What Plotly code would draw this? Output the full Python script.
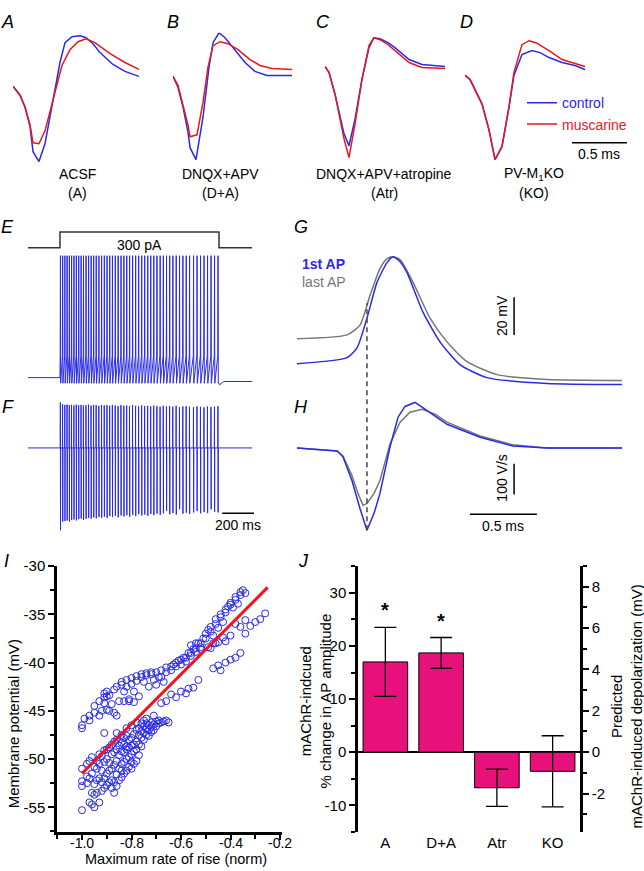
import plotly.graph_objects as go

W, H = 644, 871
def dx(px): return px / W
def dy(py): return 1 - py / H

BLUE = "#2a2ae6"
RED = "#e8161e"
GRAY = "#767676"
PINK = "#e8107a"
FONT = "Liberation Sans, Arial, sans-serif"

# ---------------- Panels A-D : AP waveforms (ms, normalised units) ----------------
a_t_ctrl = [0, 0.064, 0.109, 0.155, 0.182, 0.236, 0.291, 0.336, 0.382, 0.427, 0.473, 0.536, 0.609, 0.664, 0.727, 0.791, 0.909, 1.018, 1.145]
a_v_ctrl = [0.02, -0.16, -0.40, -0.80, -1.30, -1.50, -1.14, -0.60, -0.06, 0.50, 0.90, 1.02, 1.04, 1.00, 0.88, 0.70, 0.46, 0.32, 0.22]
a_t_musc = [0, 0.064, 0.109, 0.155, 0.182, 0.236, 0.291, 0.382, 0.445, 0.518, 0.591, 0.664, 0.745, 0.882, 1.018, 1.145]
a_v_musc = [0.02, -0.16, -0.40, -0.76, -1.12, -1.14, -0.88, -0.10, 0.44, 0.76, 0.92, 0.98, 0.90, 0.68, 0.50, 0.36]

b_t_ctrl = [0, 0.045, 0.091, 0.136, 0.155, 0.209, 0.273, 0.327, 0.364, 0.418, 0.473, 0.564, 0.655, 0.745, 0.855, 1.082]
b_v_ctrl = [0.22, 0.0, -0.40, -0.90, -1.22, -1.46, -0.60, 0.40, 0.90, 1.10, 1.00, 0.76, 0.50, 0.32, 0.24, 0.24]
b_t_musc = [0, 0.045, 0.091, 0.136, 0.155, 0.218, 0.273, 0.318, 0.364, 0.427, 0.500, 0.591, 0.700, 0.791, 0.900, 1.082]
b_v_musc = [0.22, 0.04, -0.36, -0.76, -1.00, -0.96, -0.30, 0.40, 0.84, 0.92, 0.88, 0.76, 0.56, 0.44, 0.38, 0.36]

c_t_ctrl = [0, 0.036, 0.091, 0.136, 0.173, 0.218, 0.273, 0.336, 0.400, 0.445, 0.500, 0.573, 0.636, 0.764, 0.882, 1.091]
c_v_ctrl = [0.42, 0.30, -0.14, -0.60, -0.94, -1.18, -0.64, 0.16, 0.80, 1.00, 0.98, 0.90, 0.80, 0.56, 0.46, 0.42]
c_t_musc = [0, 0.036, 0.091, 0.136, 0.173, 0.218, 0.273, 0.336, 0.400, 0.445, 0.500, 0.573, 0.636, 0.764, 0.882, 1.091]
c_v_musc = [0.42, 0.30, -0.14, -0.64, -1.04, -1.42, -0.74, 0.16, 0.84, 1.00, 0.96, 0.86, 0.74, 0.50, 0.40, 0.38]

d_t_ctrl = [0, 0.045, 0.155, 0.218, 0.273, 0.336, 0.400, 0.445, 0.518, 0.609, 0.682, 0.764, 0.882, 1.000, 1.091]
d_v_ctrl = [0.24, 0.16, -0.34, -0.86, -1.46, -1.20, -0.40, 0.24, 0.66, 0.74, 0.70, 0.60, 0.50, 0.44, 0.36]
d_t_musc = [0, 0.045, 0.155, 0.218, 0.273, 0.336, 0.400, 0.445, 0.518, 0.582, 0.645, 0.764, 0.882, 1.000, 1.091]
d_v_musc = [0.24, 0.16, -0.34, -0.86, -1.46, -1.20, -0.40, 0.30, 0.86, 0.94, 0.90, 0.74, 0.56, 0.48, 0.42]

conditions = ["ACSF", "DNQX+APV", "DNQX+APV+atropine", "PV-M<sub>1</sub>KO"]
cond_abbrev = ["(A)", "(D+A)", "(Atr)", "(KO)"]

# ---------------- Panels E-F : spike train ----------------
step_t_ms = [-201, 0, 0, 1000, 1000, 1208]
step_pA = [0, 0, 300, 300, 0, 0]
spike_times_ms = [3, 17, 31, 45, 59, 73, 88, 103, 118, 133, 148, 164, 180, 196, 212, 228, 245, 262,
                  279, 296, 313, 330, 348, 366, 384, 402, 420, 438, 457, 476, 495, 514, 533, 552,
                  571, 590, 610, 630, 650, 670, 690, 710, 731, 752, 773, 794, 815, 840, 862, 884,
                  906, 928, 950, 972, 994]
e_rest_pre_mV = -61.7
e_rest_post_mV = -64.3
e_peak_mV = 20
e_threshold_mV = -47
e_ahp_mV = -65.5
f_peak_Vs = [148, 142, 140, 141, 139, 140, 138, 141, 139, 140, 138, 139, 141, 138, 140, 139, 137, 140,
             138, 139, 137, 140, 138, 136, 139, 137, 138, 136, 139, 137, 135, 138, 136, 137, 135, 138,
             136, 134, 137, 135, 136, 134, 137, 133, 135, 136, 134, 133, 135, 134, 132, 135, 133, 134, 136]
f_trough_Vs = [-268, -240, -238, -236, -240, -235, -233, -236, -232, -230, -234, -231, -228, -230, -226,
               -229, -225, -227, -224, -228, -222, -225, -221, -226, -220, -223, -219, -224, -218, -222,
               -216, -220, -217, -221, -215, -219, -214, -218, -213, -205, -216, -212, -217, -200, -214,
               -211, -215, -210, -205, -213, -209, -212, -200, -208, -210]

# ---------------- Panels G-H : first vs last AP ----------------
g_t_first = [0, 0.373, 0.448, 0.522, 0.597, 0.672, 0.716, 0.769, 0.821, 0.940, 1.067, 1.216, 1.418, 1.866, 2.425]
g_v_first = [-55.0, -51.8, -46.6, -30.8, -11.8, -1.3, 1.8, -0.8, -6.6, -27.6, -43.4, -55.5, -62.4, -65.5, -66.1]
g_t_last = [0, 0.373, 0.470, 0.545, 0.619, 0.672, 0.716, 0.769, 0.866, 0.993, 1.119, 1.269, 1.493, 1.866, 2.425]
g_v_last = [-41.8, -39.7, -34.5, -18.7, -4.5, 0.8, 1.8, 0.3, -11.8, -30.8, -43.4, -53.9, -60.8, -63.4, -63.9]
h_t_first = [0, 0.299, 0.343, 0.410, 0.470, 0.522, 0.575, 0.619, 0.694, 0.754, 0.806, 0.881, 0.955, 1.119, 1.366, 1.612, 1.866, 2.425]
h_d_first = [0, -10, -29, -106, -197, -268, -213, -148, 3, 100, 135, 148, 126, 77, 35, 6, 0, 0]
h_t_last = [0, 0.299, 0.343, 0.410, 0.455, 0.493, 0.522, 0.575, 0.619, 0.694, 0.769, 0.843, 0.933, 1.030, 1.119, 1.366, 1.612, 1.866, 2.425]
h_d_last = [0, -10, -26, -90, -148, -187, -181, -148, -106, 13, 84, 116, 126, 110, 84, 39, 10, 0, 0]

# ---------------- Panel I : scatter ----------------
i_upper_x = [-1.00, -1.00, -0.99, -0.97, -0.97, -0.95, -0.95, -0.93, -0.93, -0.92, -0.91, -0.91, -0.91, -0.91,
             -0.90, -0.90, -0.90, -0.89, -0.89, -0.88, -0.87, -0.87, -0.86, -0.86, -0.85, -0.84, -0.84, -0.83,
             -0.83, -0.82, -0.82, -0.81, -0.81, -0.80, -0.80, -0.79, -0.79, -0.78, -0.78, -0.77, -0.76, -0.76,
             -0.75, -0.74, -0.74, -0.73, -0.72, -0.72, -0.71, -0.70, -0.70, -0.69, -0.68, -0.68, -0.67, -0.66,
             -0.66, -0.64, -0.64, -0.63, -0.62, -0.62, -0.61, -0.60, -0.60, -0.59, -0.58, -0.58, -0.57, -0.56,
             -0.56, -0.55, -0.54, -0.54, -0.53, -0.52, -0.52, -0.51, -0.50, -0.50, -0.49, -0.48, -0.48, -0.47,
             -0.46, -0.46, -0.45, -0.44, -0.44, -0.43, -0.42, -0.42, -0.41, -0.40, -0.40, -0.39, -0.38, -0.38,
             -0.37, -0.36, -0.36, -0.35, -0.34]
i_upper_y = [-46.5, -46.8, -45.8, -45.5, -46.0, -44.5, -45.2, -44.0, -45.5, -45.0, -43.2, -43.6, -44.2, -47.3,
             -43.0, -43.5, -44.9, -43.4, -45.0, -44.3, -42.8, -45.2, -45.5, -42.5, -44.0, -42.3, -42.0, -44.0,
             -43.0, -41.8, -42.5, -43.8, -44.0, -41.6, -42.2, -43.0, -44.1, -41.4, -41.9, -43.5, -41.2, -41.5,
             -42.0, -41.1, -41.3, -42.5, -41.0, -41.2, -41.8, -41.0, -42.3, -41.5, -40.8, -41.5, -42.0, -40.5,
             -41.0, -40.4, -40.8, -40.2, -40.0, -40.4, -39.8, -39.7, -40.2, -39.5, -39.5, -39.9, -39.0, -39.0,
             -39.3, -38.6, -38.5, -38.9, -38.0, -38.0, -38.4, -37.5, -37.5, -37.0, -36.6, -36.8, -36.3, -37.2,
             -36.0, -35.5, -36.4, -35.3, -35.0, -35.8, -34.5, -34.8, -34.2, -34.0, -33.8, -34.3, -33.5, -33.2,
             -33.9, -33.0, -32.7, -32.5, -32.8]
i_mid_x = [-0.68, -0.66, -0.64, -0.62, -0.60, -0.58, -0.57, -0.55, -0.53, -0.47, -0.45, -0.44, -0.42, -0.40,
           -0.38, -0.36, -0.38, -0.36, -0.34, -0.32, -0.30, -0.28, -0.26, -0.34, -0.40, -0.42, -0.46, -0.48,
           -0.56, -0.54, -0.52, -0.49, -0.47, -0.45, -0.43]
i_mid_y = [-44.2, -44.0, -43.3, -43.6, -43.0, -43.2, -42.7, -42.6, -41.8, -40.6, -40.3, -40.8, -40.0, -39.7,
           -39.5, -39.0, -36.0, -36.3, -35.6, -36.2, -35.8, -35.5, -34.9, -37.0, -37.2, -37.8, -38.0, -38.5,
           -38.2, -38.0, -38.6, -38.4, -38.0, -37.9, -37.4]
i_lower_x = [-1.00, -1.00, -1.00, -1.00, -0.98, -0.98, -0.98, -0.97, -0.97, -0.97, -0.96, -0.96, -0.96, -0.96,
             -0.95, -0.95, -0.95, -0.95, -0.94, -0.94, -0.94, -0.94, -0.93, -0.93, -0.93, -0.93, -0.92, -0.92,
             -0.92, -0.92, -0.91, -0.91, -0.91, -0.91, -0.90, -0.90, -0.90, -0.90, -0.89, -0.89, -0.89, -0.89,
             -0.88, -0.88, -0.88, -0.88, -0.88, -0.87, -0.87, -0.87, -0.87, -0.87, -0.86, -0.86, -0.86, -0.86,
             -0.86, -0.86, -0.85, -0.85, -0.85, -0.85, -0.84, -0.84, -0.84, -0.84, -0.84, -0.84, -0.83, -0.83,
             -0.83, -0.83, -0.83, -0.82, -0.82, -0.82, -0.82, -0.82, -0.82, -0.81, -0.81, -0.81, -0.81, -0.80,
             -0.80, -0.80, -0.80, -0.80, -0.80, -0.79, -0.79, -0.79, -0.79, -0.78, -0.78, -0.78, -0.78, -0.78,
             -0.77, -0.77, -0.77, -0.77, -0.76, -0.76, -0.76, -0.76, -0.75, -0.75, -0.75, -0.75, -0.74, -0.74,
             -0.74, -0.74, -0.73, -0.73, -0.73, -0.72, -0.72, -0.72, -0.71, -0.71, -0.71, -0.70, -0.70, -0.69,
             -0.69, -0.68, -0.67, -0.66, -0.65]
i_lower_y = [-55.3, -52.8, -52.3, -51.0, -51.8, -52.5, -50.5, -54.5, -52.0, -50.2, -54.7, -53.5, -51.5, -49.8,
             -55.0, -53.7, -52.6, -50.8, -53.5, -52.2, -51.0, -50.2, -54.5, -52.0, -50.5, -49.5, -53.3, -52.4,
             -51.2, -49.7, -53.0, -52.0, -50.3, -49.1, -52.7, -51.5, -50.0, -49.0, -52.4, -51.2, -50.4, -48.8,
             -53.0, -52.2, -51.0, -49.5, -48.5, -53.5, -52.4, -50.6, -49.3, -48.2, -52.8, -51.6, -50.2, -49.0,
             -48.0, -47.3, -52.2, -51.0, -49.6, -48.6, -51.9, -51.2, -50.5, -49.2, -48.3, -47.5, -51.5, -50.3,
             -49.3, -48.5, -47.8, -51.2, -50.0, -49.0, -48.7, -47.6, -46.8, -50.8, -49.8, -48.8, -48.0, -51.0,
             -50.3, -49.5, -48.6, -47.8, -46.5, -50.5, -49.2, -48.5, -47.4, -50.2, -49.0, -48.2, -47.0, -46.2,
             -49.6, -48.5, -47.5, -46.8, -48.7, -47.8, -47.1, -46.3, -48.0, -47.3, -46.6, -46.0, -47.5, -46.9,
             -46.3, -45.8, -47.6, -47.0, -46.5, -47.2, -46.7, -46.2, -47.0, -46.4, -45.5, -46.6, -46.1, -46.3,
             -46.0, -46.2, -46.1, -46.0, -46.2]
i_fit_x = [-1.0, -0.25]
i_fit_y = [-51.5, -32.2]
i_xticks = [-1.0, -0.8, -0.6, -0.4, -0.2]
i_yticks = [-55, -50, -45, -40, -35, -30]

# ---------------- Panel J : bars ----------------
j_groups = ["A", "D+A", "Atr", "KO"]
j_mean = [17.0, 18.7, -6.7, -3.6]
j_sem = [6.5, 2.9, 3.5, 6.7]
j_sig = [True, True, False, False]
j_left_ticks = [-10, 0, 10, 20, 30]
j_right_ticks = [-2, 0, 2, 4, 6, 8]

# =====================================================================
fig = go.Figure()
layout = dict(width=W, height=H, margin=dict(l=0, r=0, t=0, b=0, pad=0), autosize=False,
              paper_bgcolor="white", plot_bgcolor="rgba(0,0,0,0)",
              font=dict(family=FONT, size=14, color="black"), showlegend=True)

def hid(domain, rng, anchor):
    return dict(domain=domain, range=rng, visible=False, fixedrange=True, anchor=anchor, showgrid=False, zeroline=False)

# A-D axes
ad_starts = [13, 173, 325, 465]
ad_widths = [150, 150, 135, 175]
ad_ydom = [dy(160), dy(25)]
wave_sets = [(a_t_ctrl, a_v_ctrl, a_t_musc, a_v_musc), (b_t_ctrl, b_v_ctrl, b_t_musc, b_v_musc),
             (c_t_ctrl, c_v_ctrl, c_t_musc, c_v_musc), (d_t_ctrl, d_v_ctrl, d_t_musc, d_v_musc)]
for k in range(4):
    n = k + 1
    xs = "" if n == 1 else str(n)
    layout["xaxis" + xs] = hid([dx(ad_starts[k]), dx(ad_starts[k] + ad_widths[k])], [0, ad_widths[k] / 110], "y" + xs)
    layout["yaxis" + xs] = hid(ad_ydom, [-1.6, 1.1], "x" + xs)
    tc, vc, tm, vm = wave_sets[k]
    last = (k == 3)
    fig.add_trace(go.Scatter(x=tc, y=vc, mode="lines", line=dict(color=BLUE, width=1.5),
                             xaxis="x" + xs, yaxis="y" + xs, showlegend=last,
                             name="<span style='color:%s'>control</span>" % BLUE))
    fig.add_trace(go.Scatter(x=tm, y=vm, mode="lines", line=dict(color=RED, width=1.5),
                             xaxis="x" + xs, yaxis="y" + xs, showlegend=last,
                             name="<span style='color:%s'>muscarine</span>" % RED))

# E voltage (x5,y5), step current (x6,y6), F (x7,y7)
layout["xaxis5"] = hid([dx(28), dx(252)], [-201, 1207.5], "y5")
layout["yaxis5"] = hid([dy(385), dy(245)], [20 - (385 - 250) / 1.506, 20 - (245 - 250) / 1.506], "x5")
layout["xaxis6"] = hid([dx(28), dx(252)], [-201, 1207.5], "y6")
layout["yaxis6"] = hid([dy(246), dy(218)], [-75, 450], "x6")
layout["xaxis7"] = hid([dx(28), dx(262)], [-201, 1270.4], "y7")
layout["yaxis7"] = hid([dy(530), dy(395)], [(444 - 530) / 0.31, (444 - 395) / 0.31], "x7")

e_t = [step_t_ms[0], 0]
e_v = [e_rest_pre_mV, e_rest_pre_mV]
for ts in spike_times_ms:
    e_t += [ts - 1.5, ts, ts + 1.5]
    e_v += [e_threshold_mV, e_peak_mV, e_ahp_mV]
e_t += [1000, 1004, 1030, step_t_ms[-1]]
e_v += [e_ahp_mV, -66.5, e_rest_post_mV, e_rest_post_mV]
fig.add_trace(go.Scatter(x=e_t, y=e_v, mode="lines", line=dict(color=BLUE, width=1),
                         xaxis="x5", yaxis="y5", showlegend=False))
fig.add_trace(go.Scatter(x=step_t_ms, y=step_pA, mode="lines", line=dict(color="#333333", width=1.5),
                         xaxis="x6", yaxis="y6", showlegend=False))
f_t = [step_t_ms[0]]
f_d = [0]
for ts, pk, tr in zip(spike_times_ms, f_peak_Vs, f_trough_Vs):
    f_t += [ts - 1.5, ts - 0.5, ts + 0.5, ts + 1.5]
    f_d += [0, pk, tr, 0]
f_t += [step_t_ms[-1]]
f_d += [0]
fig.add_trace(go.Scatter(x=f_t, y=f_d, mode="lines", line=dict(color=BLUE, width=1),
                         xaxis="x7", yaxis="y7", showlegend=False))

# G (x8,y8), H (x9,y9)
layout["xaxis8"] = hid([dx(297), dx(640)], [0, 343 / 134], "y8")
layout["yaxis8"] = hid([dy(390), dy(240)], [-55 + (359 - 390) / 1.9, -55 + (359 - 240) / 1.9], "x8")
layout["xaxis9"] = hid([dx(297), dx(640)], [0, 343 / 134], "y9")
layout["yaxis9"] = hid([dy(540), dy(392)], [(444 - 540) / 0.31, (444 - 392) / 0.31], "x9")
fig.add_trace(go.Scatter(x=g_t_last, y=g_v_last, mode="lines", line=dict(color=GRAY, width=1.5, shape="spline", smoothing=0.6),
                         xaxis="x8", yaxis="y8", showlegend=False))
fig.add_trace(go.Scatter(x=g_t_first, y=g_v_first, mode="lines", line=dict(color=BLUE, width=1.5, shape="spline", smoothing=0.6),
                         xaxis="x8", yaxis="y8", showlegend=False))
fig.add_trace(go.Scatter(x=h_t_last, y=h_d_last, mode="lines", line=dict(color=GRAY, width=1.5),
                         xaxis="x9", yaxis="y9", showlegend=False))
fig.add_trace(go.Scatter(x=h_t_first, y=h_d_first, mode="lines", line=dict(color=BLUE, width=1.5),
                         xaxis="x9", yaxis="y9", showlegend=False))

# I (x10,y10)
axis_common = dict(showline=True, linewidth=2.5, linecolor="black", ticks="outside", ticklen=6, tickwidth=2,
                   tickcolor="black", showgrid=False, zeroline=False, fixedrange=True,
                   tickfont=dict(family=FONT, size=15, color="black"))
layout["xaxis10"] = dict(axis_common, domain=[dx(57), dx(282)], range=[-1.101, -0.192], anchor="y10",
                         tickvals=i_xticks, showticklabels=False, ticklen=5,
                         minor=dict(dtick=0.1, tick0=-1.0, ticklen=4, tickwidth=2, tickcolor="black", ticks="outside"))
layout["yaxis10"] = dict(axis_common, domain=[dy(832), dy(563)], range=[-57.6, -29.97], anchor="x10",
                         tickvals=i_yticks, ticktext=["%d" % v for v in i_yticks],
                         minor=dict(dtick=2.5, tick0=-30, ticklen=4, tickwidth=2, tickcolor="black", ticks="outside"))
fig.add_trace(go.Scatter(x=i_upper_x + i_mid_x + i_lower_x, y=i_upper_y + i_mid_y + i_lower_y, mode="markers",
                         marker=dict(symbol="circle-open", size=7, color=BLUE, line=dict(width=1)),
                         xaxis="x10", yaxis="y10", showlegend=False, cliponaxis=False))
fig.add_trace(go.Scatter(x=i_fit_x, y=i_fit_y, mode="lines", line=dict(color=RED, width=3),
                         xaxis="x10", yaxis="y10", showlegend=False))

# J (x11,y11,y12)
layout["xaxis11"] = dict(domain=[dx(358), dx(580)], range=[-0.491, 3.491], anchor="y11", showline=False,
                         ticks="", tickvals=[0, 1, 2, 3], ticktext=j_groups, showgrid=False, zeroline=False,
                         fixedrange=True, tickfont=dict(family=FONT, size=15, color="black"))
layout["yaxis11"] = dict(axis_common, domain=[dy(832), dy(563)], range=[-15.1, 35.1], anchor="x11",
                         tickvals=j_left_ticks, ticktext=["%d" % v for v in j_left_ticks],
                         zeroline=True, zerolinecolor="black", zerolinewidth=2,
                         minor=dict(dtick=5, tick0=0, ticklen=4, tickwidth=2, tickcolor="black", ticks="outside"))
layout["yaxis12"] = dict(axis_common, domain=[dy(832), dy(563)], range=[-3.87, 9.0], anchor="x11",
                         overlaying="y11", side="right",
                         tickvals=j_right_ticks, ticktext=["%d" % v for v in j_right_ticks],
                         minor=dict(dtick=1, tick0=0, ticklen=4, tickwidth=2, tickcolor="black", ticks="outside"))
fig.add_trace(go.Bar(x=[0, 1, 2, 3], y=j_mean, width=0.8,
                     marker=dict(color=PINK, line=dict(color="black", width=1)),
                     error_y=dict(type="data", array=j_sem, color="black", thickness=1.3, width=11),
                     xaxis="x11", yaxis="y11", showlegend=False))
# placeholder so that the right-hand axis is drawn
fig.add_trace(go.Scatter(x=[0], y=[0], mode="markers", marker=dict(opacity=0), hoverinfo="skip",
                         xaxis="x11", yaxis="y12", showlegend=False))

# ---------------- shapes ----------------
shapes = [
    dict(type="line", xref="x4", yref="y4", x0=(572 - 465) / 110, x1=(572 - 465) / 110 + 0.5, y0=-1.12, y1=-1.12,
         line=dict(color="black", width=1.5)),
    dict(type="line", xref="x7", yref="y7", x0=1020, x1=1220, y0=-213, y1=-213, line=dict(color="black", width=1.5)),
    dict(type="line", xref="x8", yref="y8", x0=1.62, x1=1.62, y0=-39.7, y1=-19.7, line=dict(color="black", width=1.5)),
    dict(type="line", xref="x9", yref="y9", x0=1.62, x1=1.62, y0=-151.6, y1=-51.6, line=dict(color="black", width=1.5)),
    dict(type="line", xref="x9", yref="y9", x0=1.29, x1=1.79, y0=-216, y1=-216, line=dict(color="black", width=1.5)),
    dict(type="line", xref="x8", yref="paper", x0=0.522, x1=0.522, y0=dy(527), y1=dy(298),
         line=dict(color="#444444", width=1.5, dash="5px,4px")),
]
layout["shapes"] = shapes

# ---------------- annotations ----------------
ann = []
def pa(text, px, py, size=14, color="black", xanchor="center", angle=0):
    ann.append(dict(text=text, x=dx(px), y=dy(py), xref="paper", yref="paper", showarrow=False,
                    xanchor=xanchor, yanchor="middle", textangle=angle,
                    font=dict(family=FONT, size=size, color=color)))

for lab, px, py in [("A", 8, 14), ("B", 173, 14), ("C", 323, 14), ("D", 466, 14), ("E", 8, 221), ("F", 8, 403),
                    ("G", 301, 221), ("H", 301, 403), ("I", 6, 558), ("J", 303, 558)]:
    pa("<i>%s</i>" % lab, px, py, size=18)
for txt, ab, cx in zip(conditions, cond_abbrev, [77, 220, 384, 534]):
    pa(txt, cx, 168, size=14)
    pa(ab, cx, 187, size=14)

def da(text, x, y, xr, yr, size=14, color="black", angle=0):
    ann.append(dict(text=text, x=x, y=y, xref=xr, yref=yr, showarrow=False, textangle=angle,
                    xanchor="center", yanchor="middle", font=dict(family=FONT, size=size, color=color)))

da("0.5 ms", (599 - 465) / 110, -1.34, "x4", "y4")
da("300 pA", 503, 56, "x6", "y6")
da("200 ms", 1120, -252, "x7", "y7")
da("20 mV", 1.53, -29.7, "x8", "y8", angle=-90)
da("100 V/s", 1.53, -100, "x9", "y9", angle=-90)
da("0.5 ms", 1.54, -255, "x9", "y9")
pa("<b>1st AP</b>", 300, 258, size=14, color=BLUE, xanchor="left")
pa("last AP", 300, 277, size=14, color=GRAY, xanchor="left")
for k in range(4):
    if j_sig[k]:
        da("<b>*</b>", k, j_mean[k] + j_sem[k] + 3.2, "x11", "y11", size=20)
# I x tick labels (placed through the x axis, closer to the axis than default)
for v in i_xticks:
    ann.append(dict(text="%.1f" % v, x=v, y=dy(843), xref="x10", yref="paper", showarrow=False,
                    xanchor="center", yanchor="middle", font=dict(family=FONT, size=14, color="black")))

pa("Membrane potential (mV)", 13, 723, size=15, angle=-90)
pa("Maximum rate of rise (norm)", 176, 859, size=14.5)
pa("mAChR-indcued<br>% change in AP amplitude", 316, 700, size=15, angle=-90)
pa("Predicted<br>mAChR-induced depolarization (mV)", 627, 705, size=15, angle=-90)
layout["annotations"] = ann

layout["legend"] = dict(x=dx(522), y=dy(80), xanchor="left", yanchor="top", bgcolor="rgba(0,0,0,0)",
                        font=dict(family=FONT, size=14), itemwidth=30, tracegroupgap=0, borderwidth=0)

fig.update_layout(**layout)
fig.write_html("out.html", config={"displayModeBar": False},
               post_script="document.body.style.margin='0';document.body.style.overflow='hidden';")
